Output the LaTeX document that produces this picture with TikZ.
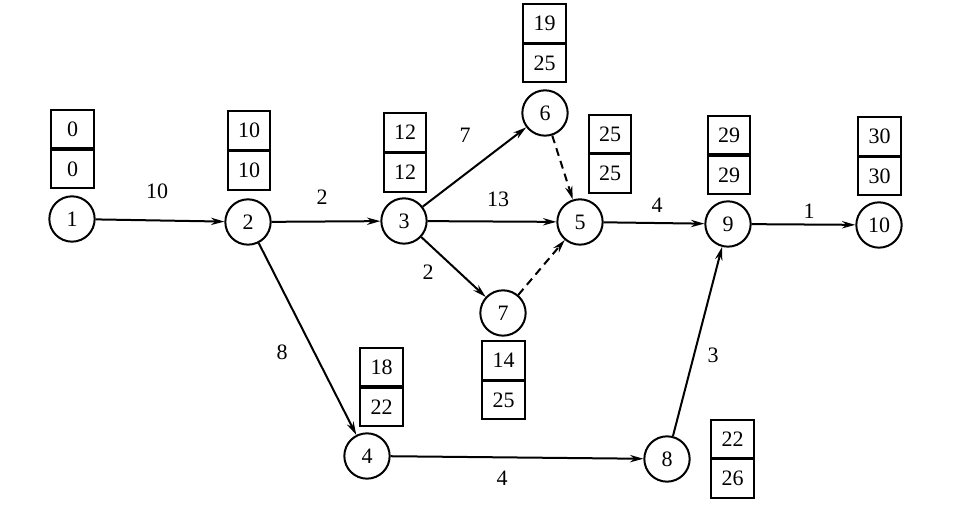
\documentclass[tikz,border=0pt]{standalone}
\usepackage{fontspec}
\setmainfont{Liberation Serif}
\usetikzlibrary{arrows.meta}
\begin{document}
\begin{tikzpicture}[x=0.75pt,y=-0.75pt,
  event/.style={circle,draw,line width=1.5pt,minimum size=34pt,inner sep=0pt,font=\fontsize{16.5}{16.5}\selectfont},
  cell/.style={rectangle,draw,line width=1.6pt,minimum width=32pt,minimum height=29pt,inner sep=0pt,font=\fontsize{16.5}{16.5}\selectfont},
  act/.style={line width=1.5pt,-{Stealth[length=10pt,width=5.5pt]}},
  dummy/.style={act,dash pattern=on 6pt off 4pt},
  dur/.style={font=\fontsize{16.5}{16.5}\selectfont,inner sep=1pt}]
\useasboundingbox (0,0) rectangle (965,505);

% events
\node[event] (n1) at (72,219) {1};
\node[event] (n2) at (248,222) {2};
\node[event] (n3) at (404,221) {3};
\node[event] (n6) at (545,113) {6};
\node[event] (n5) at (580,222) {5};
\node[event] (n9) at (728,224) {9};
\node[event] (n10) at (879,225) {10};
\node[event] (n7) at (503,313) {7};
\node[event] (n4) at (367,456) {4};
\node[event] (n8) at (667,459) {8};

% earliest / latest time boxes
\node[cell] (t1) at (72.5,129) {0};   \node[cell] (l1) at (72.5,169) {0};
\node[cell] (t2) at (249,130.5) {10}; \node[cell] (l2) at (249,170.5) {10};
\node[cell] (t3) at (405,132.5) {12}; \node[cell] (l3) at (405,172.5) {12};
\node[cell] (t6) at (544.5,23.5) {19}; \node[cell] (l6) at (544.5,63) {25};
\node[cell] (t5) at (610,134) {25};   \node[cell] (l5) at (610,173.5) {25};
\node[cell] (t9) at (729,135) {29};   \node[cell] (l9) at (729,175) {29};
\node[cell] (t10) at (879.5,136.5) {30}; \node[cell] (l10) at (879.5,176) {30};
\node[cell] (t7) at (503.5,360.5) {14}; \node[cell] (l7) at (503.5,400) {25};
\node[cell] (t4) at (381.5,367) {18}; \node[cell] (l4) at (381.5,407) {22};
\node[cell] (t8) at (732.5,439) {22}; \node[cell] (l8) at (732.5,478.5) {26};

% activities
\draw[act] (n1) -- (n2);
\draw[act] (n2) -- (n3);
\draw[act] (n3) -- (n6);
\draw[act] (n3) -- (n5);
\draw[act] (n3) -- (n7);
\draw[dummy] (n6) -- (n5);
\draw[dummy] (n7) -- (n5);
\draw[act] (n5) -- (n9);
\draw[act] (n9) -- (n10);
\draw[act] (n2) -- (n4);
\draw[act] (n4) -- (n8);
\draw[act] (n8) -- (n9);

% durations
\node[dur] (d12) at (157,191) {10};
\node[dur] (d23) at (322,197) {2};
\node[dur] (d36) at (465,135) {7};
\node[dur] (d35) at (498,199) {13};
\node[dur] (d37) at (428,272) {2};
\node[dur] (d59) at (657,205) {4};
\node[dur] (d910) at (809,211) {1};
\node[dur] (d24) at (282,352) {8};
\node[dur] (d89) at (713,355) {3};
\node[dur] (d48) at (502,478) {4};
\end{tikzpicture}
\end{document}
